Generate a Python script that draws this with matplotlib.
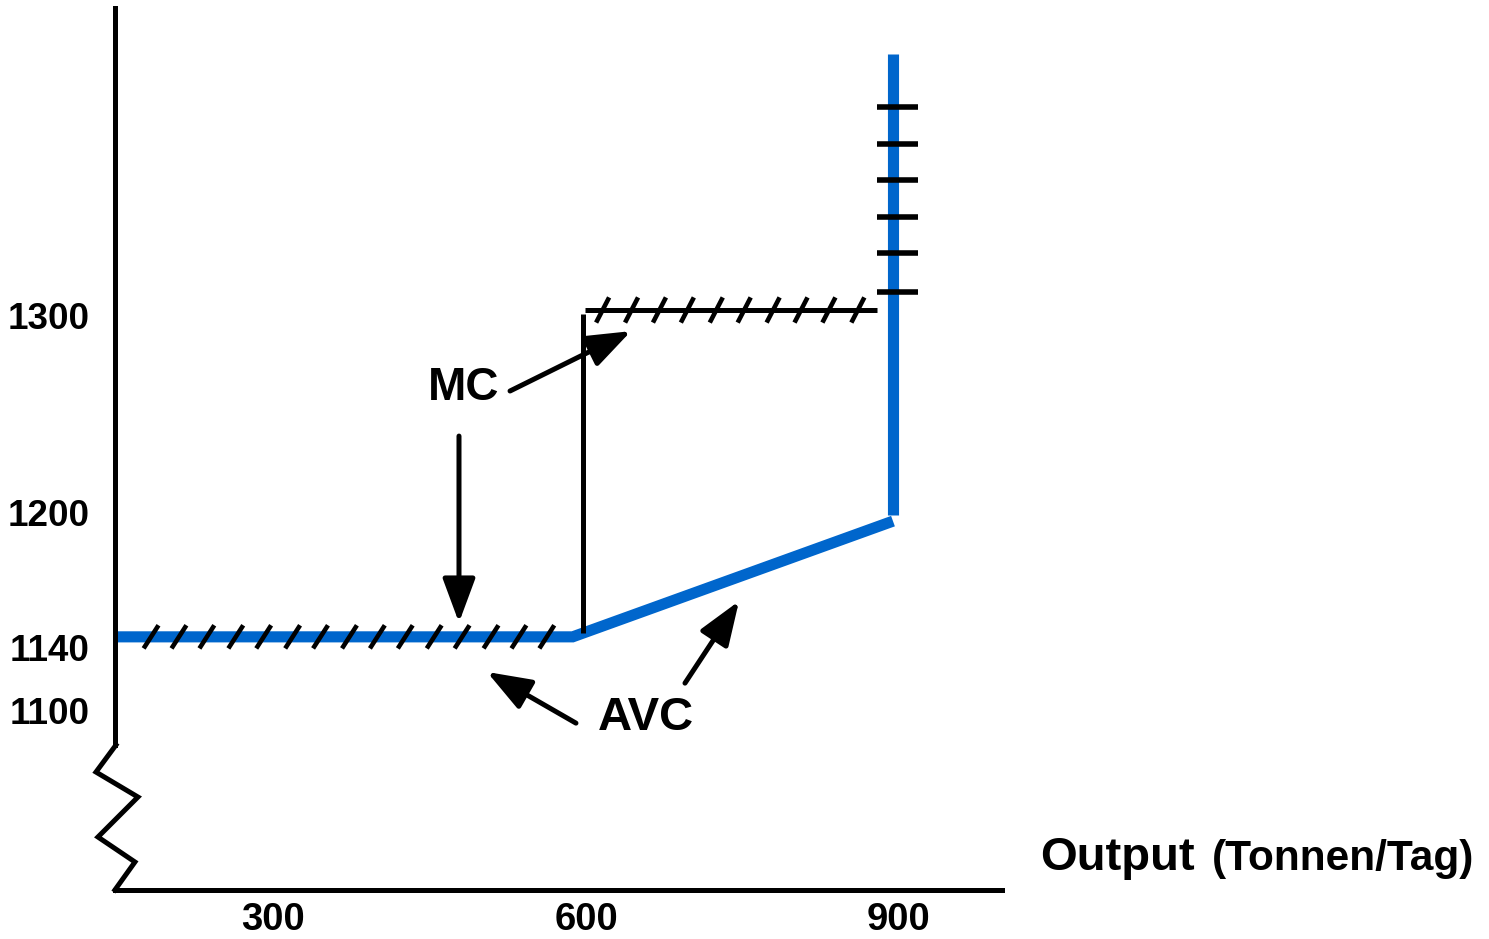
import matplotlib.pyplot as plt
from matplotlib.collections import LineCollection
from matplotlib.transforms import ScaledTranslation

plt.rcParams['font.family'] = ['Liberation Sans', 'DejaVu Sans']
plt.rcParams['font.weight'] = 'bold'

blue = '#0066cc'

# axis ticks
x_ticks = [300, 600, 900]
y_ticks = [1100, 1140, 1200, 1300]

# AVC curve (blue)
avc_x = [148, 590, 900]
avc_y = [1140, 1140, 1197]
avc_vert_x = [900, 900]
avc_vert_y = [1200, 1427]

# MC curve (black)
mc_vert_x = [600, 600]
mc_vert_y = [1142, 1299]
mc_horiz_x = [602, 885]
mc_horiz_y = [1301, 1301]

# hatch marks
avc_hatch_x = [182, 209, 236, 264, 291, 319, 346, 374, 401, 428, 456, 483, 511, 538, 565]
mc_hatch_x = [619, 647, 674, 701, 729, 756, 784, 811, 838, 866]
vert_tick_y = [1401, 1383, 1365, 1347, 1329, 1310]

# axis break zigzag
brk_x = [148, 128.7, 169.3, 130.6, 166.4, 147]
brk_y = [1086.7, 1073.4, 1061.1, 1041.4, 1029.1, 1015.3]

fig = plt.figure(figsize=(14.89, 9.39), dpi=100)
ax = fig.add_axes([115/1489, 49/939, 887/1489, 890/939])
ax.set_xlim(147.1, 1005.5)
ax.set_ylim(1015.3, 1453.7)

for s in ['top', 'right']:
    ax.spines[s].set_visible(False)
ax.spines['left'].set_linewidth(3.6)
ax.spines['bottom'].set_linewidth(3.6)
ax.spines['left'].set_bounds(1086.7, 1450)
ax.plot(brk_x, brk_y, color='black', lw=3.6, clip_on=False, solid_joinstyle='miter')

ax.set_xticks(x_ticks)
ax.set_yticks(y_ticks)
ax.tick_params(axis='x', length=0, pad=9, labelsize=27.5)
ax.tick_params(axis='y', length=0, pad=18, labelsize=26.5)

# nudge labels the way the drawing has them (pixels)
x_shift = [0, 4, 6]
y_shift = [8, -11, 3, -3]
for lab, dx in zip(ax.get_xticklabels(), x_shift):
    lab.set_transform(lab.get_transform() + ScaledTranslation(dx / 100, 0, fig.dpi_scale_trans))
for lab, dy in zip(ax.get_yticklabels(), y_shift):
    lab.set_transform(lab.get_transform() + ScaledTranslation(0, dy / 100, fig.dpi_scale_trans))

# curves
ax.plot(avc_x, avc_y, color=blue, lw=8, solid_capstyle='butt', solid_joinstyle='miter')
ax.plot(avc_vert_x, avc_vert_y, color=blue, lw=8, solid_capstyle='butt')
ax.plot(mc_vert_x, mc_vert_y, color='black', lw=3.6, solid_capstyle='butt')
ax.plot(mc_horiz_x, mc_horiz_y, color='black', lw=3.6, solid_capstyle='butt')

segs = [[(x - 7.2, 1134.3), (x + 7.2, 1145.7)] for x in avc_hatch_x]
segs += [[(x - 6.3, 1294.8), (x + 6.3, 1307.2)] for x in mc_hatch_x]
segs += [[(884.5, y), (924.2, y)] for y in vert_tick_y]
ax.add_collection(LineCollection(segs, colors='black', linewidths=[3.3] * 25 + [4] * 6,
                                 capstyle='butt'))

# arrows
arrow = dict(arrowstyle='-|>,head_length=2.7,head_width=1.0', mutation_scale=10,
             lw=3.6, color='black', shrinkA=0, shrinkB=0)
ax.annotate('', xy=(646.5, 1290.6), xytext=(529.4, 1261.1), arrowprops=arrow)
ax.annotate('', xy=(480, 1147), xytext=(480, 1238.9), arrowprops=arrow)
ax.annotate('', xy=(507.1, 1122.7), xytext=(593.2, 1097.5), arrowprops=arrow)
ax.annotate('', xy=(751, 1157.6), xytext=(698.7, 1117.2), arrowprops=arrow)

ax.text(484, 1262.6, 'MC', fontsize=33, ha='center', va='center')
ax.text(661, 1100, 'AVC', fontsize=34, ha='center', va='center')
ax.text(1042, 1025.1, 'Output', fontsize=34, ha='left', va='baseline', clip_on=False)
ax.text(1209, 1025.1, '(Tonnen/Tag)', fontsize=30.5, ha='left', va='baseline', clip_on=False)

fig.savefig('out.png', dpi=100)
